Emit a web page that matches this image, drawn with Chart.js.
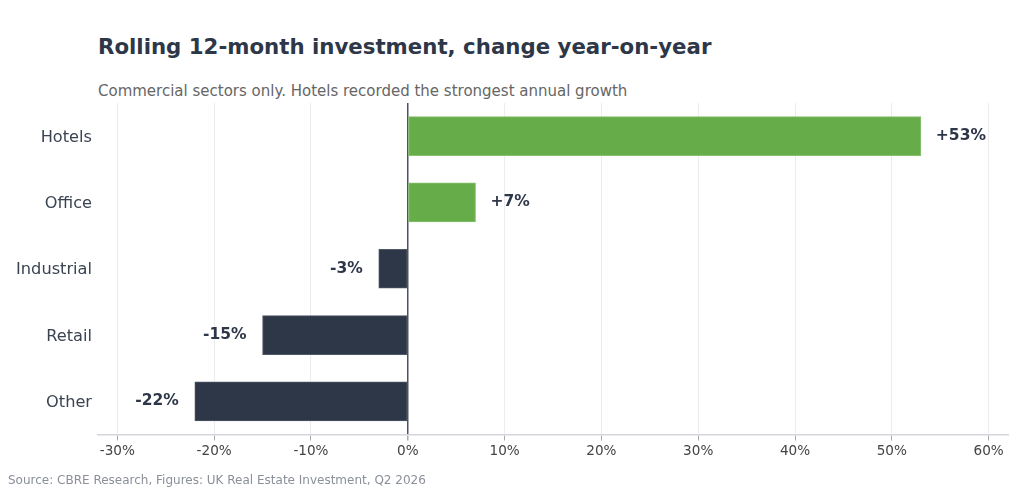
<!DOCTYPE html>
<html lang="en">
<head>
  <meta charset="UTF-8">
  <title>Rolling 12-month investment</title>
  <script src="https://cdn.jsdelivr.net/npm/chart.js"></script>
  <style>
    html, body { margin: 0; padding: 0; background: #fff; }
    body { font-family: "DejaVu Sans", sans-serif; width: 1024px; height: 492px; position: relative; overflow: hidden; }
    #title { position: absolute; left: 98px; top: 34px; font-size: 21.3px; font-weight: bold; color: #2d3748; }
    #subtitle { position: absolute; left: 98px; top: 82px; font-size: 15px; color: #666; }
    #source { position: absolute; left: 8px; top: 473px; font-size: 12px; color: #8a8f99; }
    #chart { position: absolute; left: 0; top: 0; }
  </style>
</head>
<body>
  <div id="title">Rolling 12-month investment, change year-on-year</div>
  <div id="subtitle">Commercial sectors only. Hotels recorded the strongest annual growth</div>
  <canvas id="chart" width="1024" height="492"></canvas>
  <div id="source">Source: CBRE Research, Figures: UK Real Estate Investment, Q2 2026</div>

  <script>
    const sectors = ["Hotels", "Office", "Industrial", "Retail", "Other"];
    const changes = [53, 7, -3, -15, -22];
    const xTicks = [-30, -20, -10, 0, 10, 20, 30, 40, 50, 60];

    const dark = '#2d3748';
    const green = '#66ad4a';

    // value labels at the end of each bar
    const barLabels = {
      id: 'barLabels',
      afterDatasetsDraw(chart) {
        const ctx = chart.ctx;
        const meta = chart.getDatasetMeta(0);
        ctx.save();
        ctx.font = 'bold 15.5px "DejaVu Sans"';
        ctx.fillStyle = dark;
        ctx.textBaseline = 'middle';
        meta.data.forEach((bar, i) => {
          const v = changes[i];
          const txt = (v > 0 ? '+' : '') + v + '%';
          if (v >= 0) {
            ctx.textAlign = 'left';
            ctx.fillText(txt, bar.x + 15, bar.y);
          } else {
            ctx.textAlign = 'right';
            ctx.fillText(txt, bar.x - 16, bar.y);
          }
        });
        ctx.restore();
      }
    };

    new Chart(document.getElementById('chart'), {
      type: 'bar',
      data: {
        labels: sectors,
        datasets: [{
          data: changes,
          backgroundColor: changes.map(v => v >= 0 ? green : dark),
          borderColor: changes.map(v => v >= 0 ? '#86c16e' : '#4f5866'),
          borderWidth: 1,
          borderSkipped: false,
          barThickness: 39
        }]
      },
      options: {
        indexAxis: 'y',
        responsive: false,
        animation: false,
        devicePixelRatio: 1,
        layout: { padding: { top: 103, right: 16, bottom: 0, left: 0 } },
        plugins: { legend: { display: false }, tooltip: { enabled: false } },
        scales: {
          x: {
            min: -32,
            max: 62,
            afterBuildTicks: axis => { axis.ticks = xTicks.map(v => ({ value: v })); },
            afterFit: axis => { axis.height = 57.5; },
            grid: {
              color: c => c.tick && c.tick.value === 0 ? '#4a5260' : '#ebebf0',
              lineWidth: c => c.tick && c.tick.value === 0 ? 1.5 : 1,
              tickColor: '#aaa',
              tickLength: 6
            },
            border: { display: true, color: '#d5d5dd', width: 1.5 },
            ticks: {
              padding: 3,
              color: '#444',
              font: { family: 'DejaVu Sans', size: 13.6 },
              callback: v => v + '%'
            }
          },
          y: {
            afterFit: axis => { axis.width = 98; },
            grid: { display: false, drawTicks: false },
            border: { display: false },
            ticks: {
              padding: 6,
              labelOffset: 1.5,
              color: '#3a4352',
              font: { family: 'DejaVu Sans', size: 16.2 }
            }
          }
        }
      },
      plugins: [barLabels]
    });
  </script>
</body>
</html>
